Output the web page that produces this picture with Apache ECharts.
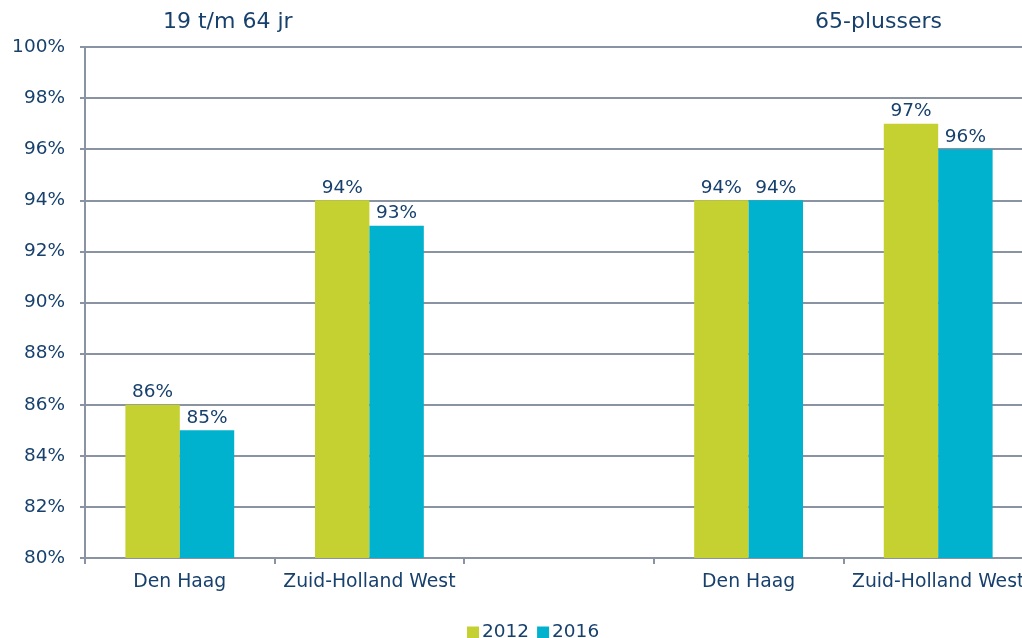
<!DOCTYPE html>
<html>
<head>
<meta charset="utf-8">
<script src="https://cdn.jsdelivr.net/npm/echarts@6/dist/echarts.min.js"></script>
<style>
html, body { margin: 0; padding: 0; background: #fff; overflow: hidden; }
#chart { width: 1034px; height: 638px; }
</style>
</head>
<body>
<div id="chart"></div>
<script>
// categories: two groups with an empty slot in between
var categories = ['Den Haag', 'Zuid-Holland West', '', 'Den Haag', 'Zuid-Holland West'];
var groupTitles = ['19 t/m 64 jr', '65-plussers'];
var values2012 = [86, 94, null, 94, 97];
var values2016 = [85, 93, null, 94, 96];
var yTicks = { min: 80, max: 100, interval: 2 };

var textColor = '#17406D';
var gridColor = '#8A93A2';
var font = 'DejaVu Sans';

// the plot runs a little past the right edge of the window, as in the original
var chart = echarts.init(document.getElementById('chart'));

var labelOpt = {
    show: true,
    position: 'top',
    distance: 3,
    color: textColor,
    fontSize: 18.5,
    fontFamily: font,
    formatter: function (p) { return p.value + '%'; }
};

chart.setOption({
    animation: false,
    backgroundColor: '#fff',
    textStyle: { fontFamily: font },
    graphic: [
        { type: 'text', left: 163, top: 11, style: { text: groupTitles[0], fill: textColor, fontSize: 22, fontFamily: font } },
        { type: 'text', left: 815, top: 11, style: { text: groupTitles[1], fill: textColor, fontSize: 22, fontFamily: font } }
    ],
    legend: {
        data: ['2012', '2016'],
        left: 462,
        top: 618,
        icon: 'rect',
        itemWidth: 12,
        itemHeight: 12,
        itemGap: 8,
        textStyle: { color: textColor, fontSize: 18.5, fontFamily: font, padding: [0, 0, 0, -2] }
    },
    grid: { left: 85, top: 47, width: 948, height: 511 },
    xAxis: {
        type: 'category',
        data: categories,
        axisLine: { lineStyle: { color: gridColor, width: 2 } },
        axisTick: { show: true, length: 6, lineStyle: { color: gridColor, width: 2 } },
        axisLabel: { color: textColor, fontSize: 18.8, fontFamily: font, margin: 15, interval: 0 }
    },
    yAxis: {
        type: 'value',
        min: yTicks.min,
        max: yTicks.max,
        interval: yTicks.interval,
        axisLine: { show: true, lineStyle: { color: gridColor, width: 2 } },
        axisTick: { show: true, length: 5, lineStyle: { color: gridColor, width: 2 } },
        axisLabel: { color: textColor, fontSize: 18.5, fontFamily: font, margin: 20, formatter: '{value}%' },
        splitLine: { lineStyle: { color: gridColor, width: 2 } }
    },
    series: [
        {
            name: '2012',
            type: 'bar',
            data: values2012,
            barWidth: '28.7%',
            barGap: '0%',
            itemStyle: { color: '#C5D130' },
            label: labelOpt
        },
        {
            name: '2016',
            type: 'bar',
            data: values2016,
            barWidth: '28.7%',
            itemStyle: { color: '#00B2CD' },
            label: labelOpt
        }
    ]
});
</script>
</body>
</html>
